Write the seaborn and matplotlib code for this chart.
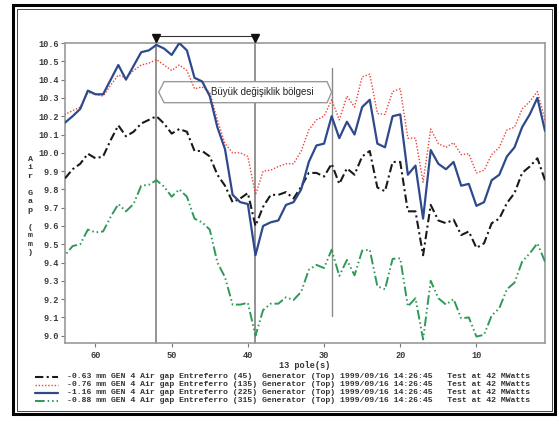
import matplotlib
matplotlib.use("Agg")
import matplotlib.pyplot as plt
import seaborn as sns
import numpy as np
import pandas as pd
from matplotlib.patches import Polygon, Rectangle
from matplotlib.lines import Line2D
from matplotlib.ticker import MultipleLocator

# ---------------- data ----------------
poles = list(range(64, 0, -1))

gap_45 = [9.86, 9.91, 9.94, 9.995, 9.97, 9.98, 10.07, 10.15, 10.09, 10.115,
          10.16, 10.18, 10.20, 10.16, 10.105, 10.13, 10.115, 10.01, 10.01, 9.98,
          9.88, 9.82, 9.73, 9.75, 9.78, 9.60, 9.705, 9.77, 9.77, 9.785,
          9.75, 9.815, 9.89, 9.89, 9.87, 9.94, 9.83, 9.915, 9.88, 9.98,
          10.01, 9.81, 9.79, 9.95, 9.95, 9.68, 9.68, 9.44, 9.715, 9.63,
          9.615, 9.635, 9.55, 9.57, 9.48, 9.505, 9.615, 9.64, 9.725, 9.78,
          9.89, 9.925, 9.97, 9.85]

gap_135 = [10.21, 10.23, 10.25, 10.33, 10.32, 10.31, 10.37, 10.425, 10.41, 10.45,
           10.48, 10.49, 10.51, 10.48, 10.45, 10.48, 10.45, 10.35, 10.36, 10.33,
           10.18, 10.05, 10.00, 10.00, 9.98, 9.77, 9.90, 9.905, 9.925, 9.94,
           9.94, 10.01, 10.125, 10.18, 10.20, 10.29, 10.18, 10.31, 10.25, 10.415,
           10.43, 10.215, 10.21, 10.335, 10.35, 10.08, 10.08, 9.84, 10.13, 10.05,
           10.03, 10.055, 9.99, 9.995, 9.89, 9.905, 9.99, 10.03, 10.125, 10.14,
           10.24, 10.28, 10.335, 10.18]

gap_225 = [10.165, 10.20, 10.24, 10.34, 10.32, 10.32, 10.40, 10.48, 10.40, 10.475,
           10.55, 10.56, 10.59, 10.57, 10.535, 10.60, 10.56, 10.41, 10.39, 10.31,
           10.14, 10.02, 9.77, 9.73, 9.72, 9.44, 9.60, 9.62, 9.63, 9.715,
           9.73, 9.80, 9.95, 10.04, 10.05, 10.20, 10.08, 10.17, 10.10, 10.25,
           10.29, 10.05, 10.03, 10.20, 10.21, 9.88, 9.93, 9.64, 10.015, 9.94,
           9.91, 9.95, 9.82, 9.83, 9.71, 9.73, 9.85, 9.88, 9.98, 10.03,
           10.14, 10.21, 10.30, 10.12]

gap_315 = [9.44, 9.49, 9.50, 9.58, 9.565, 9.57, 9.65, 9.72, 9.68, 9.72,
           9.82, 9.825, 9.85, 9.815, 9.76, 9.80, 9.76, 9.64, 9.62, 9.58,
           9.40, 9.32, 9.17, 9.17, 9.18, 9.00, 9.14, 9.175, 9.175, 9.21,
           9.195, 9.24, 9.36, 9.387, 9.37, 9.47, 9.327, 9.414, 9.33, 9.465,
           9.47, 9.27, 9.254, 9.42, 9.423, 9.16, 9.205, 8.98, 9.30, 9.205,
           9.17, 9.20, 9.095, 9.10, 8.995, 9.005, 9.11, 9.15, 9.254, 9.29,
           9.405, 9.45, 9.505, 9.405]

legend_labels = [
    "-0.63 mm GEN 4 Air gap Entreferro (45)  Generator (Top) 1999/09/16 14:26:45   Test at 42 MWatts",
    "-0.76 mm GEN 4 Air gap Entreferro (135) Generator (Top) 1999/09/16 14:26:45   Test at 42 MWatts",
    "-1.16 mm GEN 4 Air gap Entreferro (225) Generator (Top) 1999/09/16 14:26:45   Test at 42 MWatts",
    "-0.88 mm GEN 4 Air gap Entreferro (315) Generator (Top) 1999/09/16 14:26:45   Test at 42 MWatts",
]
x_ticks = [60, 50, 40, 30, 20, 10]
y_ticks = [9.0, 9.1, 9.2, 9.3, 9.4, 9.5, 9.6, 9.7, 9.8, 9.9, 10.0, 10.1, 10.2, 10.3, 10.4, 10.5, 10.6]
marker_poles = [52, 39]
short_line_pole = 29
annotation_text = "Büyük değişiklik bölgesi"
x_label = "13 pole(s)"
y_label = "Air Gap (mm)"

# ---------------- styling ----------------
sns.set_style("white")
plt.rcParams['font.family'] = ['Liberation Mono', 'DejaVu Sans Mono']

W, H = 559, 424
fig = plt.figure(figsize=(W / 100, H / 100), dpi=100)
fig.patch.set_facecolor("white")

ax_l, ax_r, ax_t, ax_b = 65, 545, 42.7, 343
ax = fig.add_axes([ax_l / W, 1 - ax_b / H, (ax_r - ax_l) / W, (ax_b - ax_t) / H])

series = [
    (gap_45, "#1a1a1a", 1.5, (0, (4, 1.6, 1, 1.6))),
    (gap_135, "#e8433a", 1.0, (0, (1, 1.3))),
    (gap_225, "#2e4a8c", 1.6, "-"),
    (gap_315, "#2f9a57", 1.4, (0, (5, 1.5, 0.8, 1.5, 0.8, 1.5))),
]
for vals, col, lw, ls in series:
    sns.lineplot(x=poles, y=vals, ax=ax, color=col, linewidth=lw,
                 linestyle=ls, zorder=4)

ax.set_xlim(64, 1)
ax.set_ylim(8.96, 10.602)
ax.set_xticks(x_ticks)
ax.set_yticks(y_ticks)
ax.set_yticklabels([f"{v:.1f}" for v in y_ticks])
ax.xaxis.set_minor_locator(MultipleLocator(1))
ax.yaxis.set_minor_locator(MultipleLocator(0.1 / 3))
ax.tick_params(axis="both", which="major", direction="out", length=3, width=0.8,
               color="#777777", labelsize=6.2, labelcolor="#3a3a3a", pad=1.5)
ax.tick_params(axis="both", which="minor", direction="out", length=2.5, width=0.7,
               color="#777777")
ax.tick_params(axis="x", which="major", pad=3)
for lab in ax.get_xticklabels() + ax.get_yticklabels():
    lab.set_fontweight("bold")
ax.tick_params(left=True, bottom=True)
for s in ax.spines.values():
    s.set_color("#9a9a9a")
    s.set_linewidth(1.2)
ax.set_xlabel("")
ax.set_ylabel("")

# vertical marker lines with triangles
y_top_line = 10.637
for p in marker_poles:
    ax.plot([p, p], [8.96, y_top_line], color="#8a8a8a", lw=1.3, clip_on=False, zorder=1)
ax.plot(marker_poles, [y_top_line, y_top_line], color="#333333", lw=0.8,
        clip_on=False, zorder=5)
ax.plot(marker_poles, [10.628, 10.628], linestyle="none", marker="v", markersize=6,
        color="#111111", clip_on=False, zorder=6)
ax.plot([short_line_pole, short_line_pole], [9.107, 10.462], color="#8a8a8a",
        lw=1.0, zorder=1)

# annotation box (arrow-shaped)
yb0, yb1 = 10.274, 10.389
ym = (yb0 + yb1) / 2
box = Polygon([[51.7, ym], [51.0, yb1], [29.6, yb1], [29.0, ym], [29.6, yb0], [51.0, yb0]],
              closed=True, facecolor="white", edgecolor="#9a9a9a", lw=1.0, zorder=2)
ax.add_patch(box)
ax.text(44.9, ym, annotation_text, ha="left", va="center", fontsize=7,
        family=["Liberation Sans", "DejaVu Sans"], color="#222222", zorder=3)

# labels
fig.text((ax_l + ax_r) / 2 / W, 1 - 365 / H, x_label, ha="center", va="center",
         fontsize=6.2, color="#333333", fontweight="bold")
fig.text(30 / W, 1 - 206 / H, "\n".join(list("Air")) + "\n\n" + "\n".join(list("Gap")) +
         "\n\n" + "\n".join(list("(mm)")), ha="center", va="center", fontsize=6,
         color="#333333", fontweight="bold", linespacing=1.3)

# legend rows
rows_y = [377, 385, 393, 401]
for (vals, col, lw, ls), lab, yy in zip(series, legend_labels, rows_y):
    fig.add_artist(Line2D([35 / W, 58 / W], [1 - yy / H, 1 - yy / H], color=col,
                          lw=lw, linestyle=ls, transform=fig.transFigure))
    fig.text(67 / W, 1 - yy / H, lab, ha="left", va="center", fontsize=5.9,
             color="#333333", fontweight="bold")

# outer frame
fig.add_artist(Rectangle((13 / W, 1 - 414 / H), (555 - 13) / W, (414 - 5) / H,
                         transform=fig.transFigure, fill=False, edgecolor="black", lw=2.2))
fig.add_artist(Rectangle((16.5 / W, 1 - 410.5 / H), (551.5 - 16.5) / W, (410.5 - 8.5) / H,
                         transform=fig.transFigure, fill=False, edgecolor="#444444", lw=0.7))

fig.savefig("out.png", dpi=100, facecolor="white")
